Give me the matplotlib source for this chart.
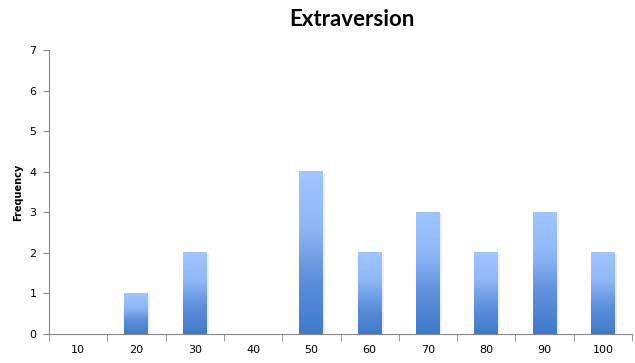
import numpy as np
import matplotlib
matplotlib.use('Agg')
import matplotlib.pyplot as plt
from matplotlib.colors import LinearSegmentedColormap

# data
bins = ['10', '20', '30', '40', '50', '60', '70', '80', '90', '100']
freq = [0, 1, 2, 0, 4, 2, 3, 2, 3, 2]

fig = plt.figure(figsize=(6.35, 3.63), dpi=100)
ax = fig.add_axes([49/635, 29/363, 583/635, 284/363])

cmap = LinearSegmentedColormap.from_list('bar', ['#3f7acb', '#5d8fdc', '#8fb8f7', '#a0c5ff'])
grad = np.linspace(0, 1, 256).reshape(-1, 1)
w = 0.41
x = np.arange(len(bins))
for xi, h in zip(x, freq):
    if h <= 0:
        continue
    # faint shadow on the right
    ax.fill_between([xi + w/2, xi + w/2 + 0.035], 0, h - 0.03, color='#efefef', lw=0, zorder=1)
    ax.imshow(grad, cmap=cmap, origin='lower', aspect='auto',
              extent=[xi - w/2, xi + w/2, 0, h], zorder=2, interpolation='bicubic')

ax.set_xlim(-0.5, len(bins) - 0.5)
ax.set_ylim(0, 7)
ax.set_yticks(range(8))
ax.set_xticks(x)
ax.set_xticklabels(bins)
ax.set_xticks(np.arange(-0.5, len(bins)), minor=True)
ax.tick_params(axis='x', which='major', length=0, pad=8, labelsize=8)
ax.tick_params(axis='x', which='minor', length=5, color='#868686', direction='out')
ax.tick_params(axis='y', length=4, color='#868686', labelsize=8, pad=5)
for s in ['top', 'right']:
    ax.spines[s].set_visible(False)
for s in ['left', 'bottom']:
    ax.spines[s].set_color('#868686')

fig.text(352/635, 1 - 19/363, 'Extraversion', ha='center', va='center',
         fontsize=16, fontweight='bold', family='Lato')
fig.text(18/635, 1 - 192/363, 'Frequency', ha='center', va='center',
         rotation=90, fontsize=7, fontweight='bold')

fig.savefig('out.png', dpi=100)
